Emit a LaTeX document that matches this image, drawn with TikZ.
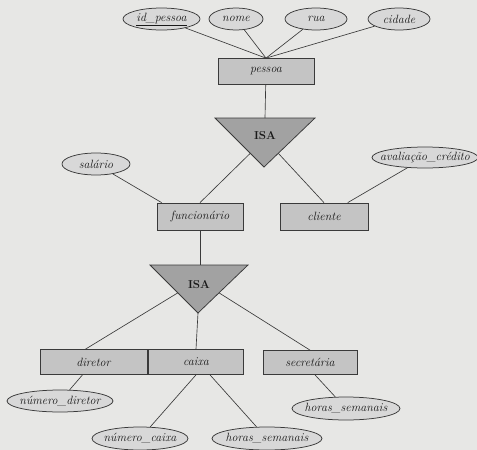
\documentclass[tikz,border=0pt]{standalone}
\usetikzlibrary{shapes.geometric,calc}
\definecolor{paper}{HTML}{E7E7E5}
\definecolor{ink}{HTML}{3A3A3A}
\definecolor{entfill}{HTML}{C4C4C4}
\definecolor{attrfill}{HTML}{D8D8D8}
\definecolor{isafill}{HTML}{A2A2A2}
\begin{document}
\begin{tikzpicture}[x=1pt,y=-1pt,
  line/.style={draw=ink, line width=0.65pt},
  txt/.style={font=\fontsize{12}{14}\selectfont\itshape, text=black!90},
  entity/.style={rectangle, draw=ink, line width=0.75pt, fill=entfill,
    minimum height=26pt, inner sep=0pt, txt},
  attr/.style={ellipse, draw=ink, line width=0.75pt, fill=attrfill,
    minimum height=22pt, inner sep=0pt, label={[txt]center:#1}},
  isa/.style={draw=ink, line width=0.75pt, fill=isafill},
  isatext/.style={font=\bfseries\fontsize{11.5}{13}\selectfont, text=black!90}
]
% page
\fill[paper] (0,0) rectangle (477,450);
\useasboundingbox (0,0) rectangle (477,450);

% ---- pessoa and its attributes
\node[entity, minimum width=96pt] (pessoa) at (266,71.5) {pessoa};
\node[attr={\underline{id\_pessoa}}, minimum width=77pt] (idp) at (161.5,19) {};
\node[attr={nome}, minimum width=54pt] (nome) at (236,19) {};
\node[attr={rua}, minimum width=62pt] (rua) at (316,19) {};
\node[attr={cidade}, minimum width=62pt] (cidade) at (399,19) {};

% ---- first ISA
\coordinate (isaAtop) at (265,118);
\coordinate (isaAL) at (215,118);
\coordinate (isaAR) at (315,118);
\coordinate (isaAapex) at (264,167);
\path[isa] (isaAL) -- (isaAR) -- (isaAapex) -- cycle;
\node[isatext] (isaA) at (265,136) {ISA};
\coordinate (isaAleft) at ($(isaAL)!0.72!(isaAapex)$);
\coordinate (isaAright) at ($(isaAR)!0.72!(isaAapex)$);

% ---- funcionario / cliente
\node[entity, minimum width=86pt, minimum height=27pt] (func) at (200,216.5) {funcionário};
\node[entity, minimum width=88pt, minimum height=27pt] (cliente) at (324,216.5) {cliente};
\node[attr={salário}, minimum width=68pt] (sal) at (96,164) {};
\node[attr={avaliação\_crédito}, minimum width=106pt, minimum height=21pt] (aval) at (425,157.5) {};

% ---- second ISA
\coordinate (isaBtop) at (200,265);
\coordinate (isaBL) at (150,265);
\coordinate (isaBR) at (248,265);
\coordinate (isaBapex) at (198,313);
\path[isa] (isaBL) -- (isaBR) -- (isaBapex) -- cycle;
\node[isatext] (isaB) at (199,285) {ISA};
\coordinate (isaBleft) at ($(isaBL)!0.58!(isaBapex)$);
\coordinate (isaBright) at ($(isaBR)!0.58!(isaBapex)$);

% ---- diretor / caixa / secretaria
\node[entity, minimum width=107pt, minimum height=25pt] (dir) at (93.5,362) {diretor};
\node[entity, minimum width=95pt, minimum height=25pt] (caixa) at (196,362) {caixa};
\node[entity, minimum width=94pt, minimum height=24pt] (sec) at (310,362.5) {secretária};
\node[attr={número\_diretor}, minimum width=106pt] (ndir) at (60,401) {};
\node[attr={número\_caixa}, minimum width=96pt, minimum height=23pt] (ncaixa) at (140,438.5) {};
\node[attr={horas\_semanais}, minimum width=110pt, minimum height=23pt] (hcaixa) at (267,438.5) {};
\node[attr={horas\_semanais}, minimum width=108pt, minimum height=23pt] (hsec) at (346,408.5) {};

% ---- connectors
\begin{scope}[line]
  \draw (idp) -- (pessoa.north);
  \draw (nome) -- (pessoa.north);
  \draw (rua) -- (pessoa.north);
  \draw (cidade) -- (pessoa.north);
  \draw (pessoa) -- (isaAtop);
  \draw (isaAleft) -- (func.north);
  \draw (isaAright) -- (cliente.north);
  \draw (sal) -- ([xshift=5pt]func.north west);
  \draw (aval) -- (cliente);
  \draw (func) -- (isaBtop);
  \draw (isaBleft) -- ([xshift=-8pt]dir.north);
  \draw (isaBapex) -- (caixa.north);
  \draw (isaBright) -- (sec.north);
  \draw ([xshift=-11pt]dir.south) -- (ndir);
  \draw (caixa.south) -- (ncaixa);
  \draw ([xshift=14pt]caixa.south) -- (hcaixa);
  \draw ([xshift=5pt]sec.south) -- (hsec);
\end{scope}
\end{tikzpicture}
\end{document}
